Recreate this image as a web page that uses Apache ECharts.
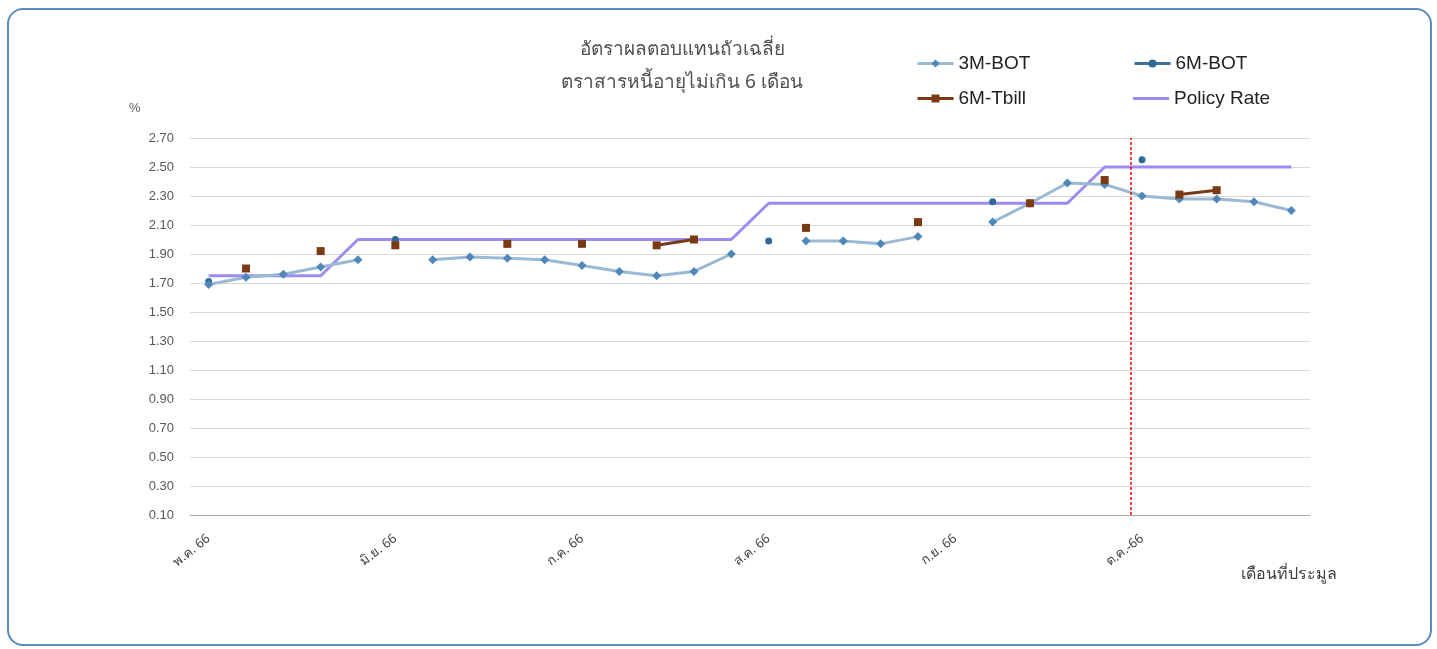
<!DOCTYPE html>
<html>
<head>
<meta charset="utf-8">
<script src="https://cdn.jsdelivr.net/npm/echarts@6/dist/echarts.min.js"></script>
<style>
html,body{margin:0;padding:0;background:#fff;}
#box{position:absolute;left:7px;top:8px;width:1421px;height:634px;border:2px solid #5b8bbf;border-radius:16px;}
#main{position:absolute;left:0;top:0;width:1437px;height:649px;}
</style>
</head>
<body>
<div id="box"></div>
<div id="main"></div>
<script>
// หมวดหมู่ (สัปดาห์ประมูล) - แสดงชื่อเดือนทุก 5 ช่อง
var weeks = ['พ.ค. 66','','','','','มิ.ย. 66','','','','','ก.ค. 66','','','','','ส.ค. 66','','','','','ก.ย. 66','','','','','ต.ค.-66','','','',''];
var bot3m = [1.69,1.74,1.76,1.81,1.86,null,1.86,1.88,1.87,1.86,1.82,1.78,1.75,1.78,1.90,null,1.99,1.99,1.97,2.02,null,2.12,2.25,2.39,2.38,2.30,2.28,2.28,2.26,2.20];
var bot6m = [1.71,null,null,null,null,2.00,null,null,null,null,null,null,null,null,null,1.99,null,null,null,null,null,2.26,null,null,null,2.55,null,null,null,null];
var tbill6m = [null,1.80,null,1.92,null,1.96,null,null,1.97,null,1.97,null,1.96,2.00,null,null,2.08,null,null,2.12,null,null,2.25,null,2.41,null,2.31,2.34,null,null];
var policy = [1.75,1.75,1.75,1.75,2.00,2.00,2.00,2.00,2.00,2.00,2.00,2.00,2.00,2.00,2.00,2.25,2.25,2.25,2.25,2.25,2.25,2.25,2.25,2.25,2.50,2.50,2.50,2.50,2.50,2.50];
var cutLine = 24.7; // เส้นแบ่ง ต.ค.

var myChart = echarts.init(document.getElementById('main'));
var fontTH = 'Tahoma, "Noto Sans", sans-serif';
var legendText = {color:'#222', fontSize:19, fontFamily:'Liberation Sans, Arial, sans-serif'};
var option = {
  animation:false,
  title:[
    {
      text:'อัตราผลตอบแทนถัวเฉลี่ย\nตราสารหนี้อายุไม่เกิน 6 เดือน',
      left:677, top:28, textAlign:'center',
      textStyle:{color:'#505050', fontSize:19, fontWeight:'normal', lineHeight:33, fontFamily:fontTH}
    },
    {text:'%', left:124, top:97, textStyle:{color:'#595959', fontSize:13, fontWeight:'normal'}},
    {text:'เดือนที่ประมูล', left:1236, top:561, textStyle:{color:'#404040', fontSize:16, fontWeight:'normal', fontFamily:fontTH}}
  ],
  legend:[
    {data:['3M-BOT'], left:911, top:49, itemWidth:36, itemHeight:10, lineStyle:{width:3}, textStyle:legendText},
    {data:['6M-BOT'], left:1128, top:49, itemWidth:36, itemHeight:10, lineStyle:{width:3}, textStyle:legendText},
    {data:['6M-Tbill'], left:911, top:84, itemWidth:36, itemHeight:10, lineStyle:{width:3}, textStyle:legendText},
    {data:[{name:'Policy Rate', icon:'rect'}], left:1128, top:84, itemWidth:36, itemHeight:3, textStyle:legendText}
  ],
  grid:{left:190, right:127, top:138, bottom:134},
  xAxis:[
    {
      type:'category',
      data:weeks,
      boundaryGap:true,
      axisLine:{lineStyle:{color:'#a6a6a6', width:1}},
      axisTick:{show:false},
      axisLabel:{interval:0, rotate:38, margin:22, color:'#404040', fontSize:13, fontFamily:fontTH}
    },
    {type:'value', min:-0.5, max:29.5, show:false}
  ],
  yAxis:{
    type:'value',
    min:0.1, max:2.7, interval:0.2,
    axisLine:{show:false},
    axisTick:{show:false},
    axisLabel:{color:'#595959', fontSize:13, margin:16, formatter:function(v){return v.toFixed(2);}},
    splitLine:{lineStyle:{color:'#d9d9d9', width:1}}
  },
  series:[
    {
      name:'3M-BOT', type:'line', data:bot3m,
      lineStyle:{color:'#9cb9d3', width:3},
      itemStyle:{color:'#4f87ba'},
      symbol:'diamond', symbolSize:9, showAllSymbol:true, z:3
    },
    {
      name:'6M-BOT', type:'line', data:bot6m,
      lineStyle:{color:'#3d6f98', width:3},
      itemStyle:{color:'#2f6a96'},
      symbol:'circle', symbolSize:7, showAllSymbol:true, z:2
    },
    {
      name:'6M-Tbill', type:'line', data:tbill6m,
      lineStyle:{color:'#7a3a13', width:3},
      itemStyle:{color:'#7a3a13'},
      symbol:'rect', symbolSize:8, showAllSymbol:true, z:4
    },
    {
      name:'Policy Rate', type:'line', data:policy,
      lineStyle:{color:'#9a8cf2', width:3},
      itemStyle:{color:'#9a8cf2'},
      symbol:'none', z:1
    },
    {
      name:'cut', type:'line', xAxisIndex:1, data:[],
      markLine:{
        silent:true, symbol:'none', label:{show:false},
        lineStyle:{color:'#ff0000', type:[3,2], width:1.5},
        data:[{xAxis:cutLine}]
      }
    }
  ]
};
myChart.setOption(option);
</script>
</body>
</html>
